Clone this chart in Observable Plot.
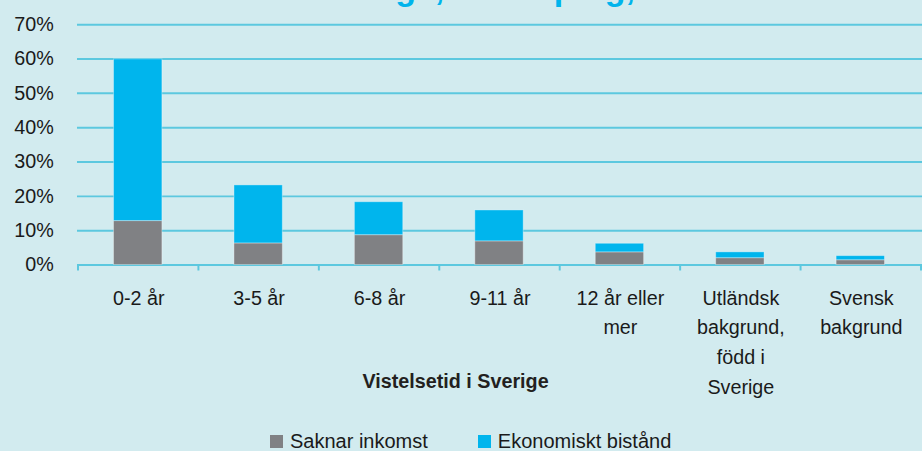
<!DOCTYPE html>
<html>
<head>
<meta charset="utf-8">
<script src="https://cdn.jsdelivr.net/npm/d3@7"></script>
<script src="https://cdn.jsdelivr.net/npm/@observablehq/plot@0.6"></script>
<style>
  html, body { margin: 0; padding: 0; }
  body { width: 922px; height: 451px; overflow: hidden; position: relative; background: #d2ebef; font-family: "Liberation Sans", Arial, sans-serif; }
  #title { position: absolute; left: 312px; top: -29px; font-size: 34px; line-height: 34px; font-weight: bold; color: #00b4ec; white-space: nowrap; }
  #chart { position: absolute; left: 0; top: 0; }
  #legend { position: absolute; top: 430px; left: 270px; display: flex; align-items: center; font-size: 20px; color: #1a1a1a; white-space: nowrap; }
  #legend .sw { display: inline-block; width: 13px; height: 13px; margin-right: 7px; }
  #legend .item { display: flex; align-items: center; margin-right: 50px; }
</style>
</head>
<body>
<div id="title">Sverige, Jönköping, 2015</div>
<div id="chart"></div>
<div id="legend"></div>
<script>
const categories = ["0-2 år", "3-5 år", "6-8 år", "9-11 år", "12 år eller\nmer", "Utländsk\nbakgrund,\nfödd i\nSverige", "Svensk\nbakgrund"];
const seriesNames = ["Saknar inkomst", "Ekonomiskt bistånd"];
const seriesColors = ["#808184", "#00b5ed"];
const saknarInkomst = [0.128, 0.063, 0.087, 0.069, 0.037, 0.020, 0.014];
const ekonomisktBistand = [0.471, 0.169, 0.096, 0.090, 0.025, 0.017, 0.012];
const yTicks = [0, 0.1, 0.2, 0.3, 0.4, 0.5, 0.6, 0.7];
const axisTitle = "Vistelsetid i Sverige";

const rows = categories.flatMap((c, i) => [
  {cat: c, serie: seriesNames[0], v: saknarInkomst[i]},
  {cat: c, serie: seriesNames[1], v: ekonomisktBistand[i]}
]);

const grid = "#5cc8df";
const font = "Liberation Sans, Arial, sans-serif";

const boundaryTicks = (index, scales, values, dims) => {
  const x = scales.x;
  const step = x(categories[1]) - x(categories[0]);
  const y0 = dims.height - dims.marginBottom;
  const g = d3.create("svg:g");
  const xs = categories.map(c => x(c)).concat([x(categories[categories.length - 1]) + step]);
  xs.forEach(px => {
    g.append("line").attr("x1", px).attr("x2", px).attr("y1", y0).attr("y2", y0 + 6)
      .attr("stroke", grid).attr("stroke-width", 2);
  });
  return g.node();
};

const chart = Plot.plot({
  width: 934,
  height: 451,
  marginLeft: 78,
  marginRight: 0,
  marginTop: 24.5,
  marginBottom: 183,
  style: {background: "transparent", fontFamily: font, fontSize: "20px", color: "#1a1a1a", overflow: "visible"},
  x: {domain: categories, padding: 0, axis: null},
  y: {domain: [0, 0.7], axis: null},
  color: {domain: seriesNames, range: seriesColors},
  marks: [
    Plot.ruleY(yTicks, {stroke: grid, strokeWidth: 2}),
    Plot.barY(rows, Plot.stackY({x: "cat", y: "v", fill: "serie", order: seriesNames, insetLeft: 36, insetRight: 37, stroke: "#ffffff", strokeOpacity: 0.35, strokeWidth: 1})),
    boundaryTicks,
    Plot.axisY(yTicks, {tickSize: 0, tickPadding: 24, tickFormat: d3.format(".0%"), fontSize: 20, fill: "#1a1a1a", label: null}),
    Plot.axisX({tickSize: 0, tickPadding: 19, lineHeight: 1.5, fontSize: 20, fill: "#1a1a1a", label: null}),
    Plot.text([axisTitle], {frameAnchor: "bottom", lineAnchor: "middle", dx: -45, dy: 118, fontWeight: "bold", fontSize: 20, fill: "#231f20"})
  ]
});
document.getElementById("chart").appendChild(chart);

const legend = d3.select("#legend");
seriesNames.forEach((s, i) => {
  const item = legend.append("div").attr("class", "item");
  item.append("span").attr("class", "sw").style("background", seriesColors[i]);
  item.append("span").text(s);
});
</script>
</body>
</html>
